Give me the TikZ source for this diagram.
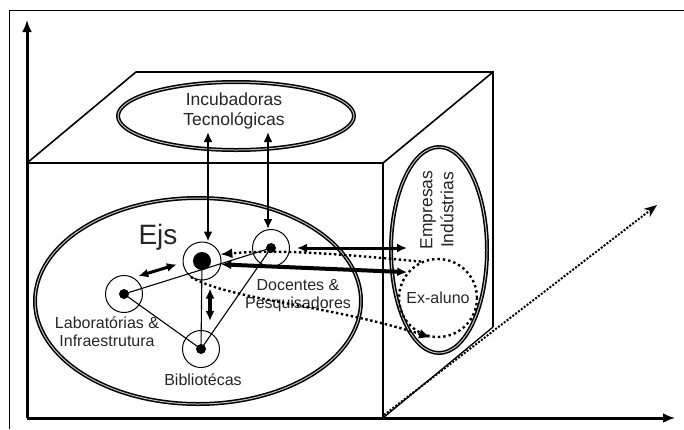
\documentclass[tikz,border=0pt]{standalone}
\usepackage{fontspec}
\setmainfont{Liberation Sans}
\usetikzlibrary{arrows.meta, shapes.geometric}

\tikzset{
  ring/.style={circle, draw, line width=1pt, minimum size=37pt, inner sep=0pt},
  blob/.style={ellipse, draw=black, line width=1.5pt, double=gray!50, double distance=1pt, inner sep=0pt},
  lbl/.style={font=\fontsize{16}{18}\selectfont, text=black!85, align=center},
  link/.style={line width=1.1pt},
  duplo/.style={{Latex[length=10pt,width=9pt]}-{Latex[length=10pt,width=9pt]}, line width=2.2pt},
  pontos/.style={line width=2.4pt, dash pattern=on 2.4pt off 2.6pt, -{Latex[length=12pt,width=10pt]}},
  eixo/.style={line width=3pt, -{Latex[length=12pt,width=10pt]}}
}

\begin{document}
\begin{tikzpicture}[x=1pt, y=-1pt]
  \useasboundingbox (0,0) rectangle (684,429);
  \draw[line width=0.9pt] (9,429) -- (9,10) -- (684,10);
  % cube
  \draw[line width=1.6pt] (27,163) -- (383,163) -- (383,418);
  \draw[line width=1.6pt] (27,163) -- (136,72) -- (493,72) -- (493,327);
  \draw[line width=1.6pt] (383,163) -- (493,72);
  \draw[line width=1.3pt] (383,418) -- (493,327);
  % axes
  \coordinate (o) at (27,418);
  \draw[eixo] (o) -- (27,20);
  \draw[eixo] (o) -- (675,418);
  \draw[line width=2pt, dash pattern=on 2pt off 1.6pt, -{Stealth[length=13pt,width=10pt]}]
      (384,415) -- (657,205);

  % groups
  \node[blob, minimum width=236pt, minimum height=68pt] (inc) at (236,116) {};
  \node[lbl, font=\fontsize{17.5}{20}\selectfont] (inctxt) at (234,111) {Incubadoras\\Tecnológicas};
  \node[blob, minimum width=326pt, minimum height=206pt] (uni) at (198,301) {};
  \node[blob, minimum width=96pt, minimum height=206pt] (emp) at (439,250) {};
  \node[lbl, font=\fontsize{17.5}{21}\selectfont, rotate=90] (emptxt) at (437,210) {Empresas\\Indústrias};
  \node[lbl, circle, draw=black, line width=2.4pt, dash pattern=on 2.4pt off 3pt,
        minimum size=78pt, inner sep=0pt] (exa) at (438,298) {Ex-aluno};

  % actors
  \node[ring, minimum size=38pt] (ejs) at (202,261) {};
  \node[ring] (doc) at (271,248) {};
  \node[ring] (lab) at (124,294) {};
  \node[ring] (bib) at (201,349) {};
  \draw[link] (lab.center) -- (doc.center);
  \draw[link] (lab.center) -- (bib.center);
  \draw[link] (ejs.center) -- (bib.center);
  \draw[link] (doc.center) -- (bib.center);
  \fill (ejs) circle (9);
  \foreach \n in {doc,lab,bib}
    \fill (\n) circle (5);
  \node[font=\fontsize{28}{30}\selectfont, text=black!85] (ejslbl) at (158,237) {Ejs};
  \node[lbl] (doclbl) at (298,296) {Docentes \&\\Pesquisadores};
  \node[lbl] (lablbl) at (107,332) {Laboratórias \&\\Infraestrutura};
  \node[lbl] (biblbl) at (203,380) {Bibliotécas};

  % links
  \coordinate (i1) at (208,132);
  \coordinate (i2) at (268,132);
  \draw[duplo] (i1) -- (ejs.north -| i1);
  \draw[duplo] (i2) -- (doc.north -| i2);
  \draw[duplo, line width=3pt] ([xshift=7pt]doc.east) -- (doc.east -| 407,0);
  \draw[duplo, line width=4pt] (ejs.-10) -- (exa.140);
  \draw[duplo, line width=3pt, shorten <=5pt, shorten >=6pt] (lab.60) -- (ejs.185);
  \draw[duplo, line width=4pt, shorten <=8pt, shorten >=9pt]
      ([xshift=8pt]ejs.south) -- ([xshift=9pt]bib.north);
  \draw[pontos] (exa.115) .. controls (340,254) and (280,249) .. (ejs.20);
  \draw[pontos] (ejs.235) .. controls (230,300) and (330,305) .. (exa.260);
\end{tikzpicture}
\end{document}
